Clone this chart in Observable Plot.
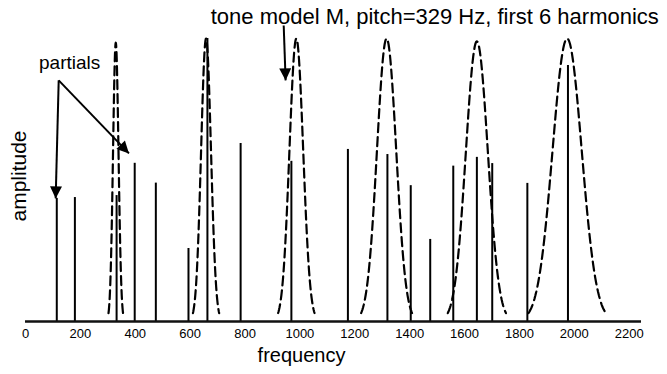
<!DOCTYPE html>
<html>
<head>
<meta charset="utf-8">
<script src="https://cdn.jsdelivr.net/npm/d3@7"></script>
<script src="https://cdn.jsdelivr.net/npm/@observablehq/plot@0.6"></script>
<style>
  html, body { margin: 0; padding: 0; background: #fff; }
  #chart { width: 667px; height: 374px; overflow: hidden; }
</style>
</head>
<body>
<div id="chart"></div>
<script>
// ---- data ----
const partialFreqs = [114, 180, 332, 398, 475, 594, 663, 784, 969, 1175, 1319, 1404, 1475, 1559, 1645, 1701, 1829, 1977];
const partialAmps  = [0.435, 0.438, 0.445, 0.559, 0.489, 0.258, 1.0, 0.629, 0.566, 0.608, 0.59, 0.48, 0.29, 0.549, 0.58, 0.558, 0.488, 0.905];

const pitch = 329;
const harmonics   = [1, 2, 3, 4, 5, 6];
const peakSigmas  = [10, 18, 25, 35, 40, 53];      // Hz, widths of the tone-model lobes
const peakAmps    = [0.985, 1, 1, 1, 0.99, 1];

const xTicks = [0, 200, 400, 600, 800, 1000, 1200, 1400, 1600, 1800, 2000, 2200];

const titleText = "tone model M, pitch=329 Hz, first 6 harmonics";
const xLabel = "frequency";
const yLabel = "amplitude";
const partialsLabel = "partials";

// annotation arrows (data units: frequency, amplitude)
const arrowFrom = [[121, 0.852], [121, 0.852], [941, 1.046]];
const arrowTo   = [[110, 0.435], [377, 0.594], [948, 0.852]];

// ---- build tables ----
const partials = partialFreqs.map((f, i) => ({f, a: partialAmps[i]}));

const model = [];
harmonics.forEach((h, i) => {
  const c = pitch * h, s = peakSigmas[i], A = peakAmps[i];
  const n = 80;
  for (let k = 0; k <= n; k++) {
    const f = c - 2.65 * s + (5.3 * s) * k / n;
    model.push({h, f, a: A * Math.exp(-((f - c) ** 2) / (2 * s * s))});
  }
});

const arrows = arrowFrom.map((p, i) => ({x1: p[0], y1: p[1], x2: arrowTo[i][0], y2: arrowTo[i][1]}));

const font = "Liberation Sans, Arial, Helvetica, sans-serif";

const plot = Plot.plot({
  width: 667,
  height: 374,
  marginLeft: 25,
  marginRight: 26,
  marginTop: 38,
  marginBottom: 53,
  style: {fontFamily: font, background: "#fff", color: "#000", overflow: "visible"},
  x: {domain: [0, 2245]},
  y: {domain: [0, 1], axis: null},
  marks: [
    Plot.ruleX(partials, {x: "f", y1: 0, y2: "a", stroke: "#000", strokeWidth: 2}),
    Plot.line(model, {x: "f", y: "a", z: "h", stroke: "#000", strokeWidth: 2.2, strokeDasharray: "9,5"}),
    Plot.ruleY([0], {stroke: "#111", strokeWidth: 2.5}),
    Plot.axisX({ticks: xTicks, tickSize: 0, tickPadding: 7, fontSize: 13, label: null, tickFormat: d => String(d)}),
    Plot.link(arrows, {x1: "x1", y1: "y1", x2: "x2", y2: "y2", stroke: "#000", strokeWidth: 2}),
    Plot.text([partialsLabel], {text: d => d, x: 161, y: 0.912, fontSize: 19}),
    Plot.text([titleText], {text: d => d, x: 675, y: 1.075, textAnchor: "start", fontSize: 22}),
    Plot.text([xLabel], {text: d => d, frameAnchor: "bottom", dx: -32, dy: 40, fontSize: 20}),
    Plot.text([yLabel], {text: d => d, frameAnchor: "left", textAnchor: "middle", dx: -6, dy: -4, rotate: -90, fontSize: 21})
  ]
});

// filled triangular arrowheads
const svg = d3.select(plot);
svg.insert("defs", ":first-child")
  .append("marker")
  .attr("id", "tri")
  .attr("viewBox", "0 0 10 10")
  .attr("refX", 10).attr("refY", 5)
  .attr("markerWidth", 15).attr("markerHeight", 12)
  .attr("markerUnits", "userSpaceOnUse")
  .attr("orient", "auto")
  .append("path").attr("d", "M0,0L10,5L0,10Z").attr("fill", "#000");
svg.selectAll('g[aria-label="link"] path').attr("marker-end", "url(#tri)");

document.getElementById("chart").appendChild(plot);
</script>
</body>
</html>
